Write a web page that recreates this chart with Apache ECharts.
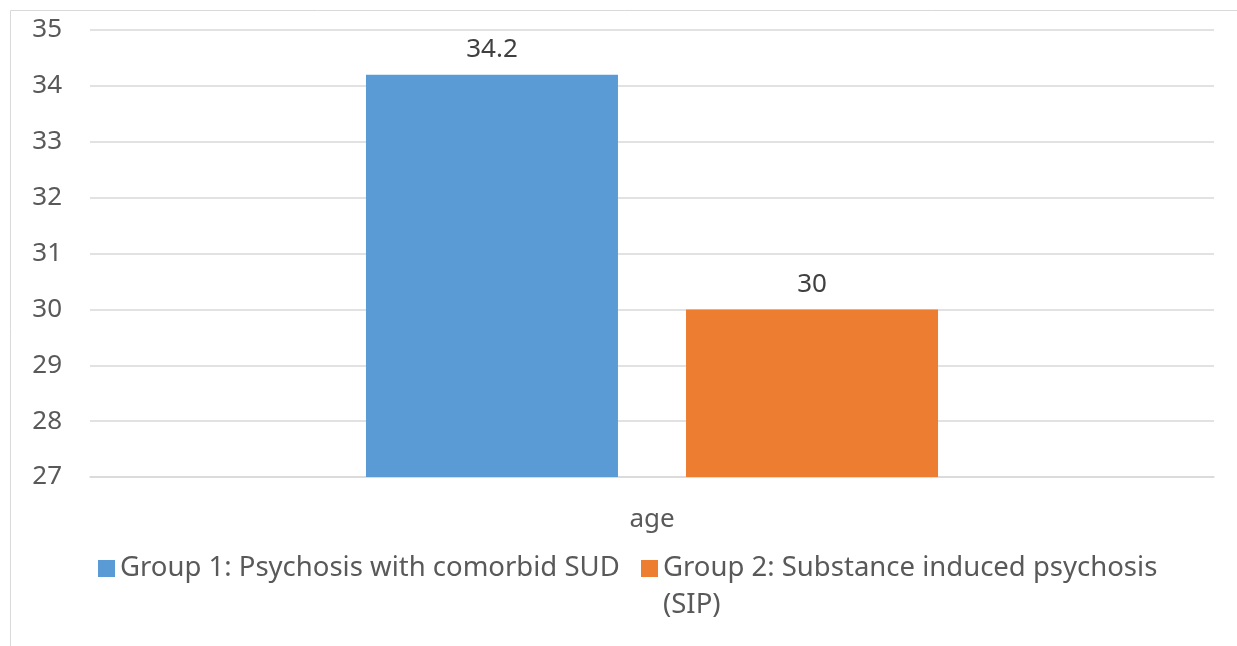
<!DOCTYPE html>
<html>
<head>
<meta charset="utf-8">
<script src="https://cdn.jsdelivr.net/npm/echarts@6/dist/echarts.min.js"></script>
<style>
  html, body { margin: 0; padding: 0; background: #fff; }
  #main { width: 1237px; height: 646px; }
</style>
</head>
<body>
<div id="main"></div>
<script>
const categories = ['age'];
const seriesNames = ['Group 1: Psychosis with comorbid SUD', 'Group 2: Substance induced psychosis (SIP)'];
const group1 = [34.2];
const group2 = [30];
const colors = ['#5B9BD5', '#ED7D31'];

const chart = echarts.init(document.getElementById('main'));
const font = 'Noto Sans';
const fs = 26;
const legendFs = 27.5;

const legendBase = {
  orient: 'horizontal',
  itemWidth: 17,
  itemHeight: 17,
  itemGap: 16,
  itemTextGap: 9,
  icon: 'rect',
  padding: 0
};

const option = {
  backgroundColor: '#fff',
  animation: false,
  graphic: [{
    type: 'rect',
    shape: { x: 10.5, y: 10.5, width: 1400, height: 800 },
    style: { fill: 'none', stroke: '#d9d9d9', lineWidth: 1 }
  }],
  grid: { left: 90, right: 23, top: 30, bottom: 169, containLabel: false },
  legend: [
    Object.assign({}, legendBase, {
      data: [seriesNames[0]],
      left: 98,
      top: 550,
      textStyle: { color: '#595959', fontSize: legendFs, fontFamily: font, lineHeight: 37 }
    }),
    Object.assign({}, legendBase, {
      data: [seriesNames[1]],
      left: 641,
      top: 513,
      textStyle: { color: '#595959', fontSize: legendFs, fontFamily: font, lineHeight: 37 },
      // blank first line keeps the icon level with the first text line
      formatter: function () {
        return ' \nGroup 2: Substance induced psychosis\n(SIP)';
      }
    })
  ],
  xAxis: {
    type: 'category',
    data: categories,
    axisLine: { lineStyle: { color: '#d9d9d9', width: 1.5 } },
    axisTick: { show: false },
    axisLabel: { color: '#595959', fontSize: fs, fontFamily: font, margin: 30 }
  },
  yAxis: {
    type: 'value',
    min: 27,
    max: 35,
    interval: 1,
    axisLine: { show: false },
    axisTick: { show: false },
    splitLine: { lineStyle: { color: '#d9d9d9', width: 1.5 } },
    axisLabel: { color: '#595959', fontSize: fs, fontFamily: font, margin: 28 }
  },
  series: [
    {
      name: seriesNames[0],
      type: 'bar',
      data: group1,
      barWidth: 252,
      barGap: '27%',
      itemStyle: { color: colors[0] },
      label: { show: true, position: 'top', distance: 12, color: '#404040', fontSize: fs, fontFamily: font }
    },
    {
      name: seriesNames[1],
      type: 'bar',
      data: group2,
      barWidth: 252,
      barGap: '27%',
      itemStyle: { color: colors[1] },
      label: { show: true, position: 'top', distance: 12, color: '#404040', fontSize: fs, fontFamily: font }
    }
  ]
};

chart.setOption(option);
</script>
</body>
</html>
